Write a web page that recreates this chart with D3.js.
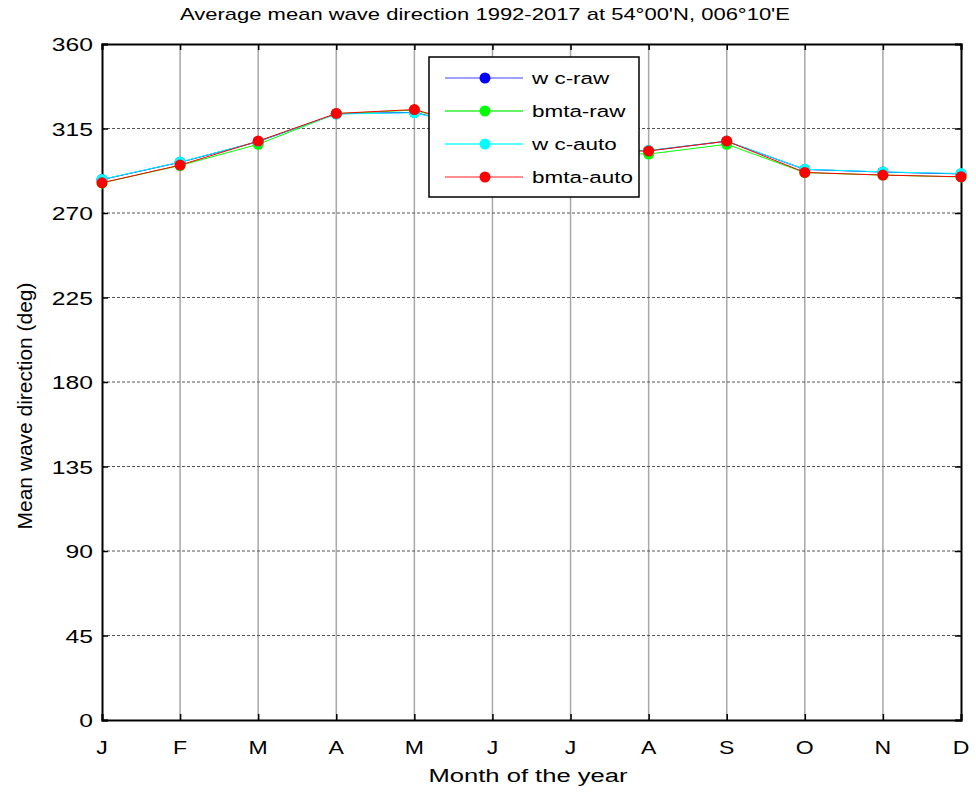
<!DOCTYPE html>
<html>
<head>
<meta charset="utf-8">
<script src="https://cdn.jsdelivr.net/npm/d3@7"></script>
<style>
  body { margin: 0; background: #fff; }
  svg { font-family: "Liberation Sans", Arial, sans-serif; }
</style>
</head>
<body>
<svg id="chart" width="976" height="794"></svg>
<script>
// months on the x axis
const months = ["J", "F", "M", "A", "M", "J", "J", "A", "S", "O", "N", "D"];
const yTicks = [0, 45, 90, 135, 180, 225, 270, 315, 360];

// series values (deg); Jun/Jul hidden behind legend so estimated
const wcRaw    = [287.8, 297.0, 308.0, 322.8, 323.6, 313.5, 303.5, 303.2, 308.2, 293.2, 291.8, 290.8];
const bmtaRaw  = [286.0, 295.3, 306.6, 322.9, 324.8, 313.0, 302.5, 301.4, 306.6, 291.5, 290.2, 289.2];
const wcAuto   = [287.9, 297.1, 308.1, 322.7, 323.4, 313.5, 303.5, 303.3, 308.3, 293.3, 291.9, 291.0];
const bmtaAuto = [286.1, 295.5, 308.3, 323.0, 325.1, 313.5, 303.2, 303.0, 308.3, 291.6, 290.2, 289.3];

const seriesNames  = ["w c-raw", "bmta-raw", "w c-auto", "bmta-auto"];
const seriesColors = ["#0000ff", "#00ff00", "#00ffff", "#ff0000"];
const seriesLine   = ["#7f7fff", "#33ee33", "#22ffff", "#ff6a6a"];
const seriesData   = [wcRaw, bmtaRaw, wcAuto, bmtaAuto];

const svg = d3.select("#chart");
const m = { left: 102, right: 15, top: 44, bottom: 74 };
const W = 976, H = 794;

const x = d3.scaleLinear().domain([0, 11]).range([m.left, W - m.right]);
const y = d3.scaleLinear().domain([0, 360]).range([H - m.bottom, m.top]);

// the source image is stretched sideways, so text gets a horizontal scale
function wideText(parent, tx, ty, sx, txt, size, anchor) {
  return parent.append("text")
    .attr("transform", `translate(${tx},${ty}) scale(${sx},1)`)
    .attr("text-anchor", anchor || "start")
    .attr("font-size", size)
    .text(txt);
}

// grid
svg.append("g")
  .selectAll("line")
  .data(d3.range(1, 11))
  .join("line")
    .attr("x1", d => x(d)).attr("x2", d => x(d))
    .attr("y1", y(0)).attr("y2", y(360))
    .attr("stroke", "#a8a8a8").attr("stroke-width", 1.5);

svg.append("g")
  .selectAll("line")
  .data(yTicks.slice(1, -1))
  .join("line")
    .attr("x1", x(0)).attr("x2", x(11))
    .attr("y1", d => y(d)).attr("y2", d => y(d))
    .attr("stroke", "#555").attr("stroke-width", 1)
    .attr("stroke-dasharray", "3,2");

// axes (ticks pointing inward, mirrored on top/right)
const tick = 6;
const axL = svg.append("g").attr("transform", `translate(${x(0)},0)`)
  .call(d3.axisRight(y).tickValues(yTicks).tickSize(tick).tickFormat(""));
const axR = svg.append("g").attr("transform", `translate(${x(11)},0)`)
  .call(d3.axisLeft(y).tickValues(yTicks).tickSize(tick).tickFormat(""));
const axB = svg.append("g").attr("transform", `translate(0,${y(0)})`)
  .call(d3.axisTop(x).tickValues(d3.range(12)).tickSize(tick).tickFormat(""));
const axT = svg.append("g").attr("transform", `translate(0,${y(360)})`)
  .call(d3.axisBottom(x).tickValues(d3.range(12)).tickSize(tick).tickFormat(""));
[axL, axR, axB, axT].forEach(a => {
  a.selectAll(".domain").attr("stroke", "#000").attr("stroke-width", 2);
  a.selectAll(".tick line").attr("stroke", "#000").attr("stroke-width", 1.5);
});

// tick labels
const yLab = svg.append("g");
yTicks.forEach(v => wideText(yLab, x(0) - 9, y(v) + 7, 1.37, v, 18, "end"));

const xLab = svg.append("g");
months.forEach((mo, i) => wideText(xLab, x(i), y(0) + 34, 1.28, mo, 18, "middle"));

// titles
svg.append("text")
  .attr("x", 485).attr("y", 20)
  .attr("text-anchor", "middle")
  .attr("font-size", 17)
  .attr("textLength", 610).attr("lengthAdjust", "spacingAndGlyphs")
  .text("Average mean wave direction 1992-2017 at 54°00'N, 006°10'E");

svg.append("text")
  .attr("x", 528).attr("y", 782)
  .attr("text-anchor", "middle")
  .attr("font-size", 18)
  .attr("textLength", 199).attr("lengthAdjust", "spacingAndGlyphs")
  .text("Month of the year");

svg.append("text")
  .attr("transform", `translate(32,406) rotate(-90)`)
  .attr("text-anchor", "middle")
  .attr("font-size", 20)
  .attr("textLength", 247).attr("lengthAdjust", "spacingAndGlyphs")
  .text("Mean wave direction (deg)");

// series
const line = d3.line().x((d, i) => x(i)).y(d => y(d));
seriesData.forEach((vals, k) => {
  svg.append("path")
    .datum(vals)
    .attr("d", line)
    .attr("fill", "none")
    .attr("stroke", seriesColors[k])
    .attr("stroke-width", 1);
  svg.append("g")
    .selectAll("circle")
    .data(vals)
    .join("circle")
      .attr("cx", (d, i) => x(i))
      .attr("cy", d => y(d))
      .attr("r", 5.5)
      .attr("fill", seriesColors[k]);
});

// legend
const lg = svg.append("g").attr("transform", "translate(429,57)");
lg.append("rect")
  .attr("width", 210).attr("height", 140)
  .attr("fill", "#fff").attr("stroke", "#000").attr("stroke-width", 1.5);
seriesNames.forEach((name, k) => {
  const yy = 21 + k * 33;
  lg.append("line")
    .attr("x1", 16).attr("x2", 94).attr("y1", yy).attr("y2", yy)
    .attr("stroke", seriesLine[k]).attr("stroke-width", 1.5);
  lg.append("circle")
    .attr("cx", 56).attr("cy", yy).attr("r", 5.5)
    .attr("fill", seriesColors[k]);
  wideText(lg, 103, yy + 6, 1.32, name, 17);
});
</script>
</body>
</html>
